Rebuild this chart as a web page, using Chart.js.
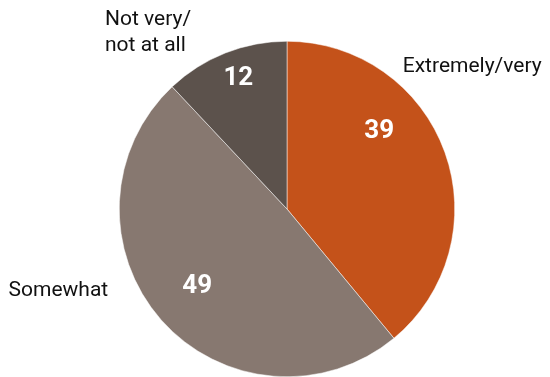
<!DOCTYPE html>
<html>
<head>
<meta charset="utf-8">
<script src="https://cdn.jsdelivr.net/npm/chart.js@4"></script>
<style>
  html, body { margin: 0; padding: 0; background: #fff; }
  #wrap { width: 550px; height: 377px; }
</style>
</head>
<body>
<div id="wrap"><canvas id="graph" width="550" height="377"></canvas></div>
<script>
// data
const categories = ['Extremely/very', 'Somewhat', 'Not very/\nnot at all'];
const values = [39, 49, 12];
const colors = ['#C4521A', '#877870', '#5C524C'];

// label offsets from pie centre, in units of radius (value label, category label)
const valuePos = [[0.55, -0.46], [-0.535, 0.46], [-0.29, -0.78]];
const catPos = [[0.69, -0.85, 'left'], [-1.066, 0.49, 'right'], [-1.085, -1.13, 'left']];

const labelPlugin = {
  id: 'pieLabels',
  afterDatasetsDraw(chart) {
    const ctx = chart.ctx;
    const arcs = chart.getDatasetMeta(0).data;
    ctx.save();
    arcs.forEach((arc, i) => {
      const cx = arc.x, cy = arc.y, r = arc.outerRadius;
      // value
      ctx.fillStyle = '#fff';
      ctx.font = 'bold 26px Roboto';
      ctx.textAlign = 'center';
      ctx.textBaseline = 'middle';
      ctx.fillText(values[i], cx + valuePos[i][0] * r, cy + valuePos[i][1] * r);
      // category
      ctx.fillStyle = '#111';
      ctx.font = '21px Roboto';
      ctx.textAlign = catPos[i][2];
      const lines = categories[i].split('\n');
      lines.forEach((line, j) => {
        ctx.fillText(line, cx + catPos[i][0] * r, cy + catPos[i][1] * r + j * 26);
      });
    });
    ctx.restore();
  }
};

new Chart(document.getElementById('graph'), {
  type: 'pie',
  data: {
    labels: categories,
    datasets: [{
      data: values,
      backgroundColor: colors,
      borderColor: '#fff',
      borderWidth: 0.5
    }]
  },
  options: {
    responsive: false,
    animation: false,
    layout: { padding: { top: 41, bottom: 0, left: 119, right: 95 } },
    plugins: { legend: { display: false }, tooltip: { enabled: false } }
  },
  plugins: [labelPlugin]
});
</script>
</body>
</html>
